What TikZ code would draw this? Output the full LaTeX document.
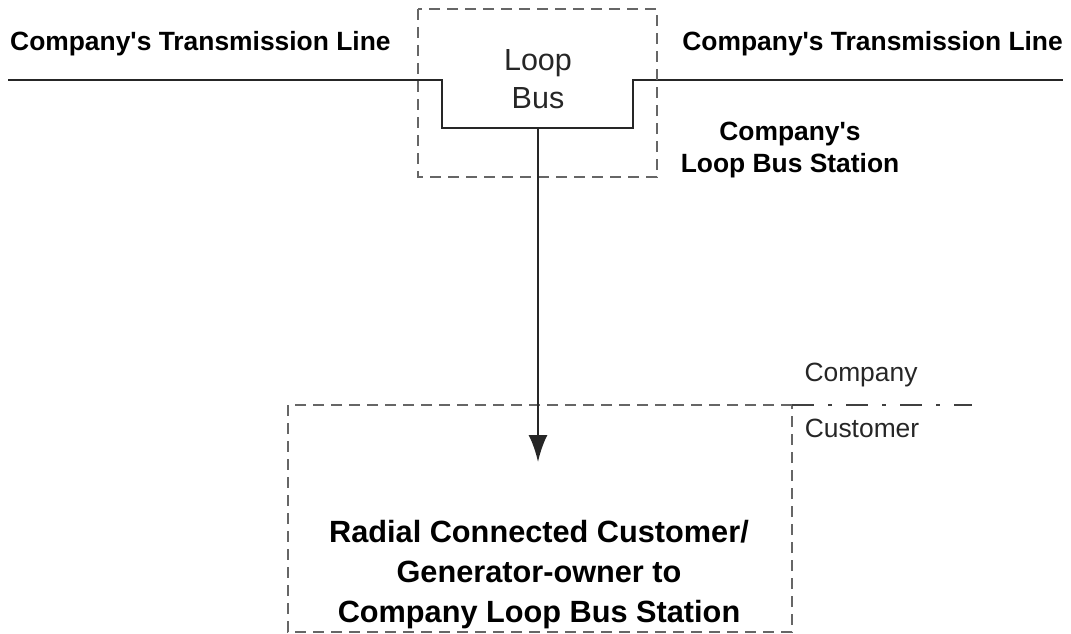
\documentclass[tikz,border=0pt]{standalone}
\usepackage{fontspec}
\setmainfont{Liberation Sans}
\usetikzlibrary{arrows.meta}
\begin{document}
\begin{tikzpicture}[x=1pt,y=-1pt,
  wire/.style={line width=2.6pt,black!85},
  dashbox/.style={line width=2.2pt,black!60,dash pattern=on 11pt off 7pt},
  border/.style={line width=2.4pt,black!75,dash pattern=on 22pt off 14pt on 4pt off 14pt},
  lbl/.style={font=\fontsize{26.4}{30}\selectfont\bfseries,inner sep=0pt},
  lblr/.style={font=\fontsize{26.4}{30}\selectfont,inner sep=0pt,text=black!85},
  busl/.style={font=\fontsize{30.5}{38}\selectfont,inner sep=0pt,align=center,text=black!85},
  mainl/.style={font=\fontsize{30.7}{40}\selectfont\bfseries,inner sep=0pt,align=center},
  tip/.style={-{Latex[length=27pt,width=19pt]}}]
\useasboundingbox (0,0) rectangle (1071,634);
% transmission line and loop bus
\coordinate (L0) at (8,80);
\coordinate (L1) at (442,80);
\coordinate (B1) at (442,128);
\coordinate (B2) at (633,128);
\coordinate (R1) at (633,80);
\coordinate (R0) at (1063,80);
\coordinate (BT) at (538,128);
\draw[wire] (L0) -- (L1) -- (B1) -- (B2) -- (R1) -- (R0);
% loop bus station box
\draw[dashbox] (418,9) rectangle (657,177);
% customer box
\coordinate (CA) at (792,405);
\draw[dashbox] (CA) -- (288,405) -- (288,632) -- (792,632) -- (CA);
\coordinate (CE) at (972,405);
\draw[border] (CA) -- (CE);
% arrow
\coordinate (AT) at (538,462);
\draw[wire,tip] (BT) -- (AT);
% texts
\node[lbl,anchor=west] (tl) at (10,44) {Company\textquotesingle s Transmission Line};
\node[lbl,anchor=east] (tr) at (1063,44) {Company\textquotesingle s Transmission Line};
\node[busl] (lb) at (538,79) {Loop\\Bus};
\node[lbl,align=center] (st) at (790,150) {Company\textquotesingle s\\[2pt]Loop Bus Station};
\node[lblr] (co) at (861,375) {Company};
\node[lblr] (cu) at (862,428) {Customer};
\node[mainl] (mt) at (539,575) {Radial Connected Customer/\\Generator-owner to\\Company Loop Bus Station};
\end{tikzpicture}
\end{document}
